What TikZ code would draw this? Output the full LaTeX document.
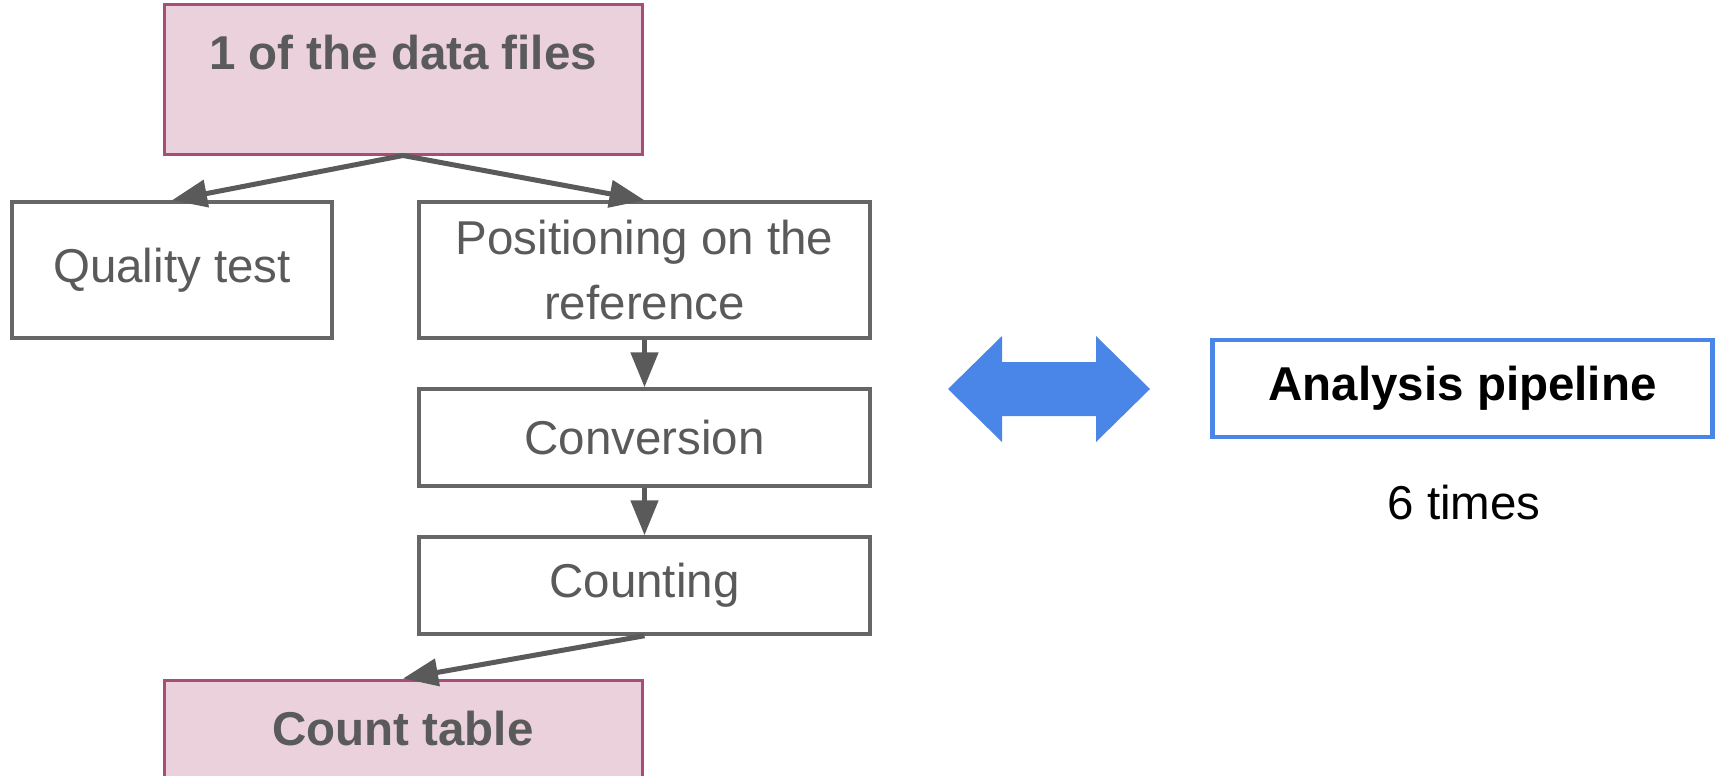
\documentclass[tikz,border=0pt]{standalone}
\usepackage{fontspec}
\setmainfont{Liberation Sans}
\usetikzlibrary{arrows.meta}
\definecolor{boxgray}{HTML}{666666}
\definecolor{txtgray}{HTML}{5A5A5A}
\definecolor{pinkfill}{HTML}{EAD1DC}
\definecolor{pinkline}{HTML}{A64D79}
\definecolor{blueline}{HTML}{4A86E8}
\tikzset{
  bigfont/.style={font=\fontsize{47.5}{65}\selectfont},
  stepbox/.style={draw=boxgray, line width=3.5pt, fill=white, bigfont,
    text=txtgray, align=center, inner sep=0pt},
  filebox/.style={draw=pinkline, line width=3pt, fill=pinkfill,
    font=\fontsize{47.5}{65}\selectfont\bfseries, text=txtgray, inner sep=0pt,
    text height=35pt, text depth=54pt, minimum width=478pt, minimum height=149pt},
  pipebox/.style={draw=blueline, line width=4.5pt, fill=white,
    font=\fontsize{47.5}{65}\selectfont\bfseries, text=black, inner sep=0pt,
    minimum width=500pt, minimum height=97pt},
  flow/.style={draw=txtgray, line width=5pt, -{Triangle[length=35pt,width=27pt]}},
}
\begin{document}
\begin{tikzpicture}[x=1pt, y=-1pt]
  \useasboundingbox (0,0) rectangle (1719,776);
  \clip (0,0) rectangle (1719,776);

  % input file and processing steps
  \node[filebox] (data) at (403,79.5) {1 of the data files};
  \node[stepbox, minimum width=320pt, minimum height=136pt] (quality) at (172,270) {Quality test};
  \node[stepbox, minimum width=451pt, minimum height=136pt] (position) at (644.5,270)
    {Positioning on the\\reference};
  \node[stepbox, minimum width=451pt, minimum height=97pt] (conversion) at (644.5,437.5) {Conversion};
  \node[stepbox, minimum width=451pt, minimum height=97pt] (counting) at (644.5,585.5) {Counting};
  \node[filebox] (table) at (403,754.5) {Count table};

  % connectors
  \draw[flow] (data.south) -- (quality.north);
  \draw[flow] (data.south) -- (position.north);
  \draw[flow] (position.south) -- (conversion.north);
  \draw[flow] (conversion.south) -- (counting.north);
  \draw[flow] (counting.south) -- (table.north);

  % two-way arrow linking the workflow to the pipeline
  \fill[blueline] (948,389) -- (1002,336) -- (1002,362) -- (1096,362) -- (1096,336)
    -- (1150,389) -- (1096,442) -- (1096,416) -- (1002,416) -- (1002,442) -- cycle;

  \node[pipebox] (pipeline) at (1462.5,388.5) {Analysis pipeline};
  \node[bigfont, anchor=base, inner sep=0pt] (times) at (1464,519) {6 times};
\end{tikzpicture}
\end{document}
